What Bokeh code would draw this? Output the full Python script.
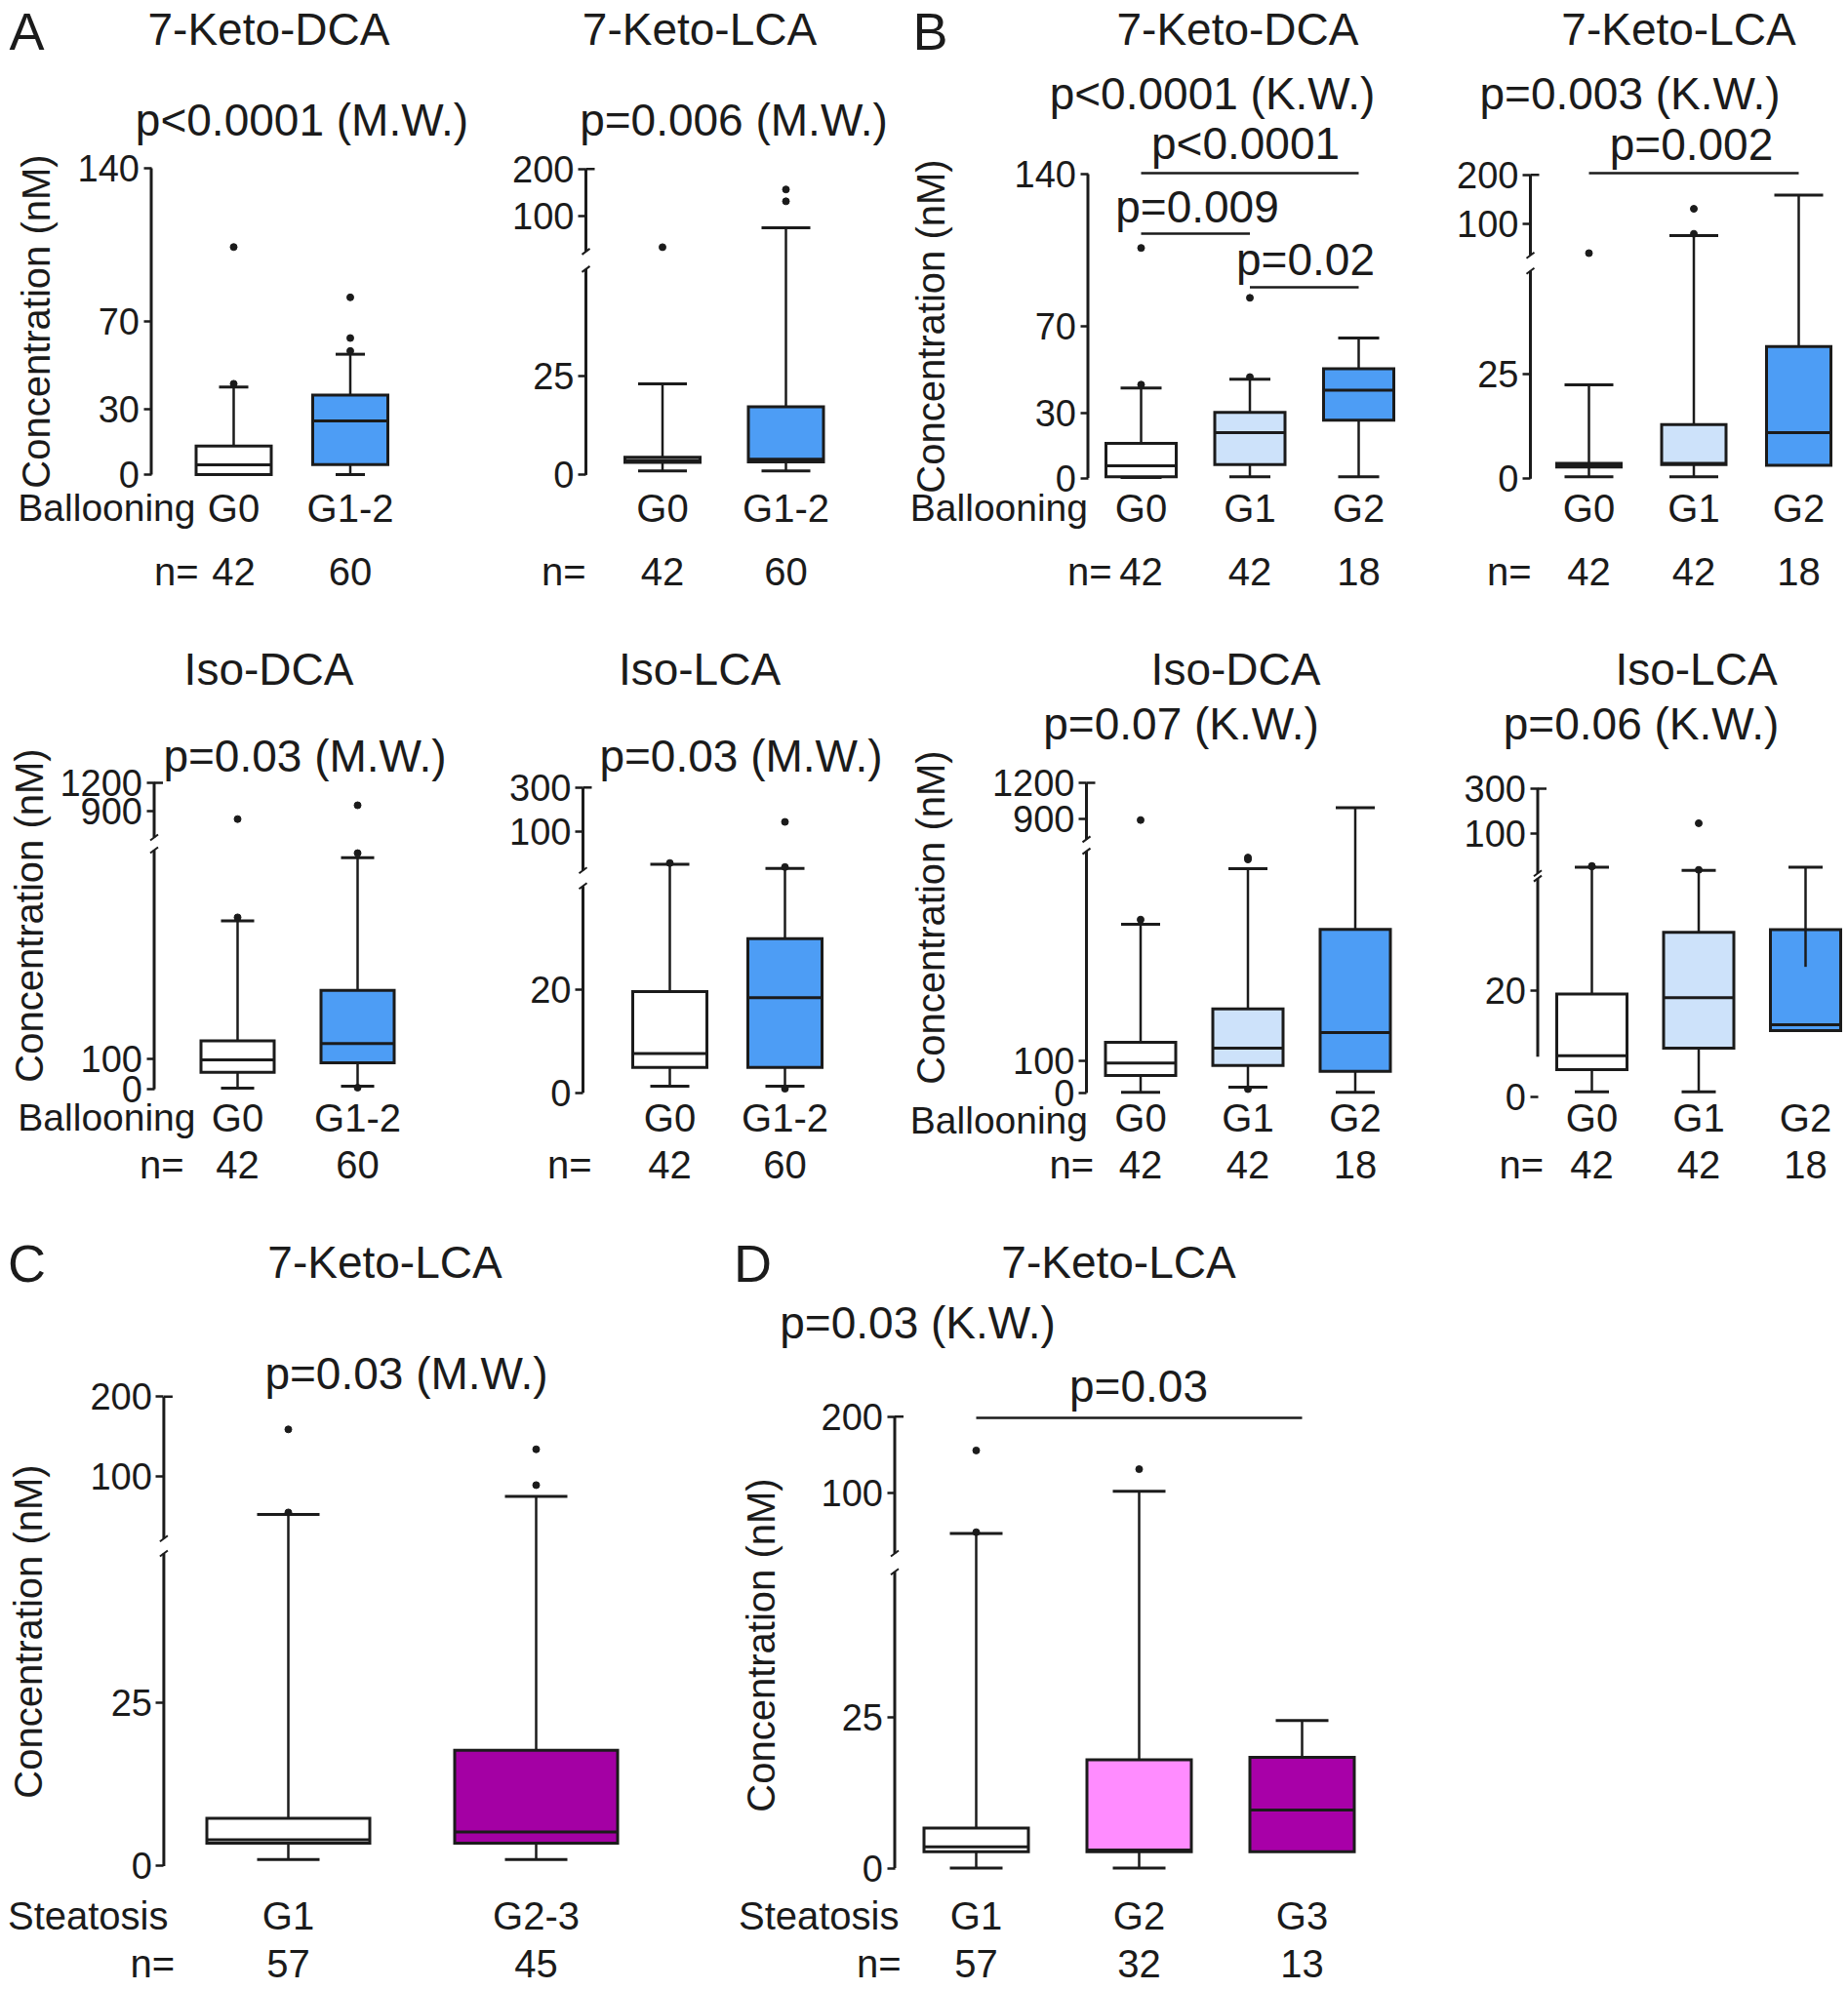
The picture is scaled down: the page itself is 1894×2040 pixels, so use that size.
import numpy as np
from bokeh.plotting import figure
from bokeh.layouts import column, row
from bokeh.models import LinearAxis, FixedTicker, CustomJSTickFormatter, Range1d
from bokeh.core.properties import value
from bokeh.embed import file_html
from bokeh.resources import INLINE

# ----------------------------------------------------------------- data
BALLOON_2 = ["G0", "G1-2"]
BALLOON_3 = ["G0", "G1", "G2"]
STEAT_2 = ["G1", "G2-3"]
STEAT_3 = ["G1", "G2", "G3"]
N_BALLOON_2 = [42, 60]
N_BALLOON_3 = [42, 42, 18]
N_STEAT_2 = [57, 45]
N_STEAT_3 = [57, 32, 13]

# boxes per group: (whisker low, Q1, median, Q3, whisker high) in nM
A_KDCA_BOX = [(0, 0, 4.5, 13, 40), (0, 4.6, 24.5, 36.3, 55)]
A_KDCA_OUT = [[41.5, 104], [56.5, 62.4, 81]]
A_KLCA_BOX = [(1, 3.2, 3.7, 4.5, 23), (1, 3.3, 4.0, 17.2, 87)]
A_KLCA_OUT = [[65], [132, 157]]
A_IDCA_BOX = [(3, 56, 98, 162, 563), (10, 88, 153, 331, 775)]
A_IDCA_OUT = [[575, 870], [5, 790, 962]]
A_ILCA_BOX = [(1.3, 4.9, 7.6, 19.6, 51), (1.3, 4.9, 18.4, 29.8, 45)]
A_ILCA_OUT = [[53], [0.8, 47, 144]]

B_KDCA_BOX = [(0.2, 0.6, 5.6, 16, 41.5), (0.6, 6.2, 20.9, 30.2, 45.5), (0.6, 26.6, 40.5, 50.3, 64.5)]
B_KDCA_OUT = [[43, 106], [46.5, 83], []]
B_KLCA_BOX = [(0.5, 2.8, 3.2, 3.7, 22.4), (0.5, 3.4, 3.7, 12.9, 84.8), (3.2, 3.2, 11, 31.5, 158)]
B_KLCA_OUT = [[62.8], [87, 130], []]
B_IDCA_BOX = [(2, 55, 94, 159, 530), (18, 86, 141, 264, 705), (2, 68, 190, 514, 990)]
B_IDCA_OUT = [[545, 890], [12, 734, 740], []]
B_ILCA_BOX = [(0.9, 5.1, 7.7, 19.3, 51), (0.9, 9.1, 18.6, 30.9, 46.3), (12.4, 12.4, 13.5, 31.4, 51)]
B_ILCA_OUT = [[52, 52.5], [47, 146], []]
B_ILCA_WHISKER_FROM = [19.3, 30.9, 24.4]

C_KLCA_BOX = [(1.0, 3.5, 4.0, 7.3, 69.4), (1.0, 3.5, 5.2, 17.7, 84)]
C_KLCA_OUT = [[71, 159], [93, 134]]
D_KLCA_BOX = [(0, 2.7, 3.5, 6.6, 66.4), (0, 2.7, 3.0, 17.9, 102), (2.7, 2.7, 9.6, 18.3, 24.4)]
D_KLCA_OUT = [[67.5, 155.6], [131], []]

TICKS_KDCA = [0, 30, 70, 140]
TICKS_KLCA = [0, 25, 100, 200]
TICKS_IDCA = [0, 100, 900, 1200]
TICKS_ILCA = [0, 20, 100, 300]

# ----------------------------------------------------------------- style
FONT = "Liberation Sans"
INK = "#1b1b1b"
FILL_A = ["#ffffff", "#4d9df5"]
FILL_B = ["#ffffff", "#cde2fa", "#4d9df5"]
FILL_C = ["#ffffff", "#a400a4"]
FILL_D = ["#ffffff", "#ff8cff", "#a800a8"]
YLAB = "Concentration (nM)"


def make_T(k, anchors):
    if anchors is None:
        return lambda v: np.asarray(v, dtype=float)
    vals, pxs = anchors
    return lambda v: np.interp(np.asarray(v, dtype=float), vals, pxs) / k


def txt(p, x, y, s, size, align="center", angle=0.0):
    p.text(x=[x], y=[y], text=[s], text_font=value(FONT), text_font_size=f"{size}px",
           text_align=align, text_baseline="middle", text_color=INK, angle=angle)


def panel(cfg):
    left, top, right, bottom = cfg["rect"]
    x1, sx, y0, k = cfg["x1"], cfg["sx"], cfg["y0"], cfg["k"]
    X = lambda px: (px - x1) / sx + 1.0
    Y = lambda py: (y0 - py) / k
    T = make_T(k, cfg.get("anchors"))

    p = figure(width=right - left, height=bottom - top,
               x_range=Range1d(X(left), X(right)), y_range=Range1d(Y(bottom), Y(top)),
               x_axis_type=None, y_axis_type=None, output_backend="svg",
               toolbar_location=None, tools="", min_border=0,
               outline_line_color=None, background_fill_color="white",
               border_fill_color="white")

    # spine with break
    xs = X(cfg["spine"])
    segs = cfg["segs"]
    p.segment(x0=[xs] * len(segs), y0=[float(T(a)) for a, b in segs],
              x1=[xs] * len(segs), y1=[float(T(b)) for a, b in segs],
              line_width=3, line_color=INK)
    if len(segs) > 1:
        ends = [float(T(segs[0][1])), float(T(segs[1][0]))]
        p.segment(x0=[xs - 4 / sx] * 2, y0=[e - 3 / k for e in ends],
                  x1=[xs + 4 / sx] * 2, y1=[e + 3 / k for e in ends],
                  line_width=2, line_color=INK)
        ytop = float(T(segs[-1][1]))
        p.segment(x0=[xs], y0=[ytop], x1=[xs + 9 / sx], y1=[ytop], line_width=2.5, line_color=INK)

    ticks = cfg["ticks"]
    tpos = [float(T(t)) for t in ticks]
    yax = LinearAxis(fixed_location=xs, ticker=FixedTicker(ticks=tpos),
                     formatter=CustomJSTickFormatter(
                         args=dict(pos=tpos, labels=[str(t) for t in ticks]),
                         code="let b=0; for (let i=0;i<pos.length;i++){ if (Math.abs(pos[i]-tick)<Math.abs(pos[b]-tick)) b=i;} return labels[b];"),
                     axis_line_color=None, major_tick_out=8, major_tick_in=0,
                     major_tick_line_width=2.5, major_tick_line_color=INK,
                     minor_tick_line_color=None, major_label_standoff=4,
                     major_label_text_font=FONT, major_label_text_font_size="38px",
                     major_label_text_color=INK)
    p.add_layout(yax, "left")

    groups = cfg["groups"]
    ng = len(groups)
    gx = np.arange(1, ng + 1, dtype=float)
    xax = LinearAxis(fixed_location=Y(cfg["gy"] - 22), ticker=FixedTicker(ticks=list(gx)),
                     formatter=CustomJSTickFormatter(args=dict(labels=groups),
                                                     code="return labels[Math.round(tick)-1];"),
                     axis_line_color=None, major_tick_line_color=None, major_tick_out=0,
                     major_tick_in=0, minor_tick_line_color=None, major_label_standoff=0,
                     major_label_text_font=FONT, major_label_text_font_size="40px",
                     major_label_text_color=INK)
    p.add_layout(xax, "below")

    box = np.array(cfg["box"], dtype=float)
    lo, q1, med, q3, hi = box.T
    bw = cfg["box_px"] / sx
    cw = cfg["cap_px"] / sx
    # whiskers
    p.segment(x0=gx, y0=T(q3), x1=gx, y1=T(hi), line_width=2.5, line_color=INK)
    has_lo = lo < q1
    p.segment(x0=gx[has_lo], y0=T(lo[has_lo]), x1=gx[has_lo], y1=T(q1[has_lo]),
              line_width=2.5, line_color=INK)
    p.segment(x0=gx - cw / 2, y0=T(hi), x1=gx + cw / 2, y1=T(hi), line_width=3, line_color=INK)
    p.segment(x0=(gx - cw / 2)[has_lo], y0=T(lo[has_lo]), x1=(gx + cw / 2)[has_lo],
              y1=T(lo[has_lo]), line_width=3, line_color=INK)
    # boxes
    p.quad(left=gx - bw / 2, right=gx + bw / 2, bottom=T(q1), top=T(q3),
           fill_color=cfg["fills"], line_color=INK, line_width=3, line_join="miter")
    p.segment(x0=gx - bw / 2, y0=T(med), x1=gx + bw / 2, y1=T(med), line_width=3, line_color=INK)
    if cfg.get("wfrom") is not None:
        wf = np.array(cfg["wfrom"], dtype=float)
        inside = wf < q3
        p.segment(x0=gx[inside], y0=T(wf[inside]), x1=gx[inside], y1=T(q3[inside]),
                  line_width=2.5, line_color=INK)
    # outliers
    ox, oy = [], []
    for i, vals in enumerate(cfg["out"]):
        ox += [gx[i]] * len(vals)
        oy += list(vals)
    if ox:
        p.scatter(x=ox, y=T(oy), size=7, fill_color=INK, line_color=INK)

    # counts
    for i, n in enumerate(cfg["n"]):
        txt(p, gx[i], Y(cfg["ny"]), str(n), 40)

    # brackets
    for (g1, g2, lab, ly, lx, lty) in cfg.get("brackets", []):
        p.segment(x0=[float(g1)], y0=[Y(ly)], x1=[float(g2)], y1=[Y(ly)], line_width=2.5, line_color=INK)
        txt(p, X(lx), Y(lty), lab, 46)

    for (s, px, py, size, align, angle) in cfg["texts"]:
        txt(p, X(px), Y(py), s, size, align, angle)
    return p


V = np.pi / 2
PANELS = [
    dict(rect=(0, 0, 490, 620), x1=239, sx=119.5, spine=154.5, y0=486, k=2.243, anchors=None,
         segs=[(0, 140)], ticks=TICKS_KDCA, box_px=77, cap_px=30, fills=FILL_A,
         groups=BALLOON_2, n=N_BALLOON_2, box=A_KDCA_BOX, out=A_KDCA_OUT, gy=520, ny=585,
         texts=[("A", 27, 31.5, 54, "center", 0), ("7-Keto-DCA", 275, 29, 46, "center", 0),
                ("p<0.0001 (M.W.)", 309, 122, 46, "center", 0), (YLAB, 36, 329, 40, "center", V),
                ("Ballooning", 200, 520, 39, "right", 0), ("n=", 203, 585, 40, "right", 0)]),
    dict(rect=(490, 0, 930, 620), x1=678.5, sx=126.5, spine=600, y0=486.4, k=4.06,
         anchors=([0, 52, 60, 100, 200], [0, 211, 229, 265, 313.6]),
         segs=[(0, 52), (60, 200)], ticks=TICKS_KLCA, box_px=77, cap_px=50, fills=FILL_A,
         groups=BALLOON_2, n=N_BALLOON_2, box=A_KLCA_BOX, out=A_KLCA_OUT, gy=520, ny=585,
         texts=[("7-Keto-LCA", 716.5, 29, 46, "center", 0),
                ("p=0.006 (M.W.)", 751.5, 122, 46, "center", 0), ("n=", 600, 585, 40, "right", 0)]),
    dict(rect=(930, 0, 1440, 620), x1=1169, sx=111.5, spine=1114.5, y0=489.5, k=2.225, anchors=None,
         segs=[(0, 140)], ticks=TICKS_KDCA, box_px=72, cap_px=42, fills=FILL_B,
         groups=BALLOON_3, n=N_BALLOON_3, box=B_KDCA_BOX, out=B_KDCA_OUT, gy=520, ny=585,
         brackets=[(1, 3, "p<0.0001", 177, 1276, 146.5), (1, 2, "p=0.009", 239, 1226.5, 211.5),
                   (2, 3, "p=0.02", 294, 1337.5, 265)],
         texts=[("B", 953, 31.5, 54, "center", 0), ("7-Keto-DCA", 1268, 29, 46, "center", 0),
                ("p<0.0001 (K.W.)", 1242, 95, 46, "center", 0), (YLAB, 953, 334, 40, "center", V),
                ("Ballooning", 1114.5, 520, 39, "right", 0), ("n=", 1139, 585, 40, "right", 0)]),
    dict(rect=(1440, 0, 1894, 620), x1=1628, sx=107.5, spine=1568, y0=490.3, k=4.30,
         anchors=([0, 49.5, 60, 100, 200], [0, 213, 229, 261.8, 311.6]),
         segs=[(0, 49.5), (60, 200)], ticks=TICKS_KLCA, box_px=66, cap_px=50, fills=FILL_B,
         groups=BALLOON_3, n=N_BALLOON_3, box=B_KLCA_BOX, out=B_KLCA_OUT, gy=520, ny=585,
         brackets=[(1, 3, "p=0.002", 177, 1733, 147)],
         texts=[("7-Keto-LCA", 1720, 29, 46, "center", 0),
                ("p=0.003 (K.W.)", 1670, 95, 46, "center", 0), ("n=", 1569, 585, 40, "right", 0)]),
    dict(rect=(0, 620, 490, 1235), x1=243, sx=123, spine=157.5, y0=1116, k=0.306,
         anchors=([0, 800, 801, 900, 1200], [0, 245, 258, 285, 314]),
         segs=[(0, 800), (801, 1200)], ticks=TICKS_IDCA, box_px=75, cap_px=34, fills=FILL_A,
         groups=BALLOON_2, n=N_BALLOON_2, box=A_IDCA_BOX, out=A_IDCA_OUT, gy=1145, ny=1193,
         texts=[("Iso-DCA", 275, 685, 46, "center", 0), ("p=0.03 (M.W.)", 312, 774, 46, "center", 0),
                (YLAB, 29, 938, 40, "center", V), ("Ballooning", 200, 1145, 39, "right", 0),
                ("n=", 188, 1193, 40, "right", 0)]),
    dict(rect=(490, 620, 930, 1235), x1=686, sx=118, spine=597, y0=1119.8, k=5.30,
         anchors=([0, 40, 42, 100, 300], [0, 212, 228, 267.8, 313]),
         segs=[(0, 40), (42, 300)], ticks=TICKS_ILCA, box_px=76, cap_px=40, fills=FILL_A,
         groups=BALLOON_2, n=N_BALLOON_2, box=A_ILCA_BOX, out=A_ILCA_OUT, gy=1145, ny=1193,
         texts=[("Iso-LCA", 716.5, 685, 46, "center", 0), ("p=0.03 (M.W.)", 759, 774, 46, "center", 0),
                ("n=", 606, 1193, 40, "right", 0)]),
    dict(rect=(930, 620, 1440, 1235), x1=1168.5, sx=110, spine=1113, y0=1119.9, k=0.326,
         anchors=([0, 760, 761, 900, 1200], [0, 247.8, 260, 281.3, 317.9]),
         segs=[(0, 760), (761, 1200)], ticks=TICKS_IDCA, box_px=72, cap_px=40, fills=FILL_B,
         groups=BALLOON_3, n=N_BALLOON_3, box=B_IDCA_BOX, out=B_IDCA_OUT, gy=1145, ny=1193,
         texts=[("Iso-DCA", 1266, 685, 46, "center", 0), ("p=0.07 (K.W.)", 1210, 741, 46, "center", 0),
                (YLAB, 953, 940, 40, "center", V), ("Ballooning", 1114.5, 1148, 39, "right", 0),
                ("n=", 1120.6, 1193, 40, "right", 0)]),
    dict(rect=(1440, 620, 1894, 1235), x1=1631, sx=109.5, spine=1575.5, y0=1123.7, k=5.455,
         anchors=([0, 41, 42, 100, 300], [0, 223.6, 229, 269.7, 315.7]),
         segs=[(7.5, 41), (42, 300)], ticks=TICKS_ILCA, box_px=72, cap_px=35, fills=FILL_B,
         groups=BALLOON_3, n=N_BALLOON_3, box=B_ILCA_BOX, out=B_ILCA_OUT, wfrom=B_ILCA_WHISKER_FROM,
         gy=1145, ny=1193,
         texts=[("Iso-LCA", 1738, 685, 46, "center", 0), ("p=0.06 (K.W.)", 1681.5, 741, 46, "center", 0),
                ("n=", 1581.7, 1193, 40, "right", 0)]),
    dict(rect=(0, 1235, 740, 2038), x1=295, sx=254, spine=167.4, y0=1912.4, k=6.70,
         anchors=([0, 47.8, 50, 100, 200], [0, 320.4, 335.7, 399.4, 481.1]),
         segs=[(0, 47.8), (50, 200)], ticks=TICKS_KLCA, box_px=167, cap_px=64, fills=FILL_C,
         groups=STEAT_2, n=N_STEAT_2, box=C_KLCA_BOX, out=C_KLCA_OUT, gy=1963, ny=2012,
         texts=[("C", 27, 1294, 54, "center", 0), ("7-Keto-LCA", 394, 1293, 46, "center", 0),
                ("p=0.03 (M.W.)", 416, 1407, 46, "center", 0), (YLAB, 28, 1672, 40, "center", V),
                ("Steatosis", 172, 1963, 40, "right", 0), ("n=", 178.6, 2012, 40, "right", 0)]),
    dict(rect=(740, 1235, 1894, 2038), x1=1000, sx=167, spine=916.5, y0=1914.5, k=6.20,
         anchors=([0, 49, 50, 100, 200], [0, 303.8, 322.5, 384.7, 462.8]),
         segs=[(0, 49), (50, 200)], ticks=TICKS_KLCA, box_px=107, cap_px=54, fills=FILL_D,
         groups=STEAT_3, n=N_STEAT_3, box=D_KLCA_BOX, out=D_KLCA_OUT, gy=1963, ny=2012,
         brackets=[(1, 3, "p=0.03", 1453, 1166.5, 1420)],
         texts=[("D", 771, 1294, 54, "center", 0), ("7-Keto-LCA", 1146, 1293, 46, "center", 0),
                ("p=0.03 (K.W.)", 940, 1355, 46, "center", 0), (YLAB, 779, 1686, 40, "center", V),
                ("Steatosis", 921, 1963, 40, "right", 0), ("n=", 923, 2012, 40, "right", 0)]),
]

figs = [panel(c) for c in PANELS]
layout = column(row(*figs[0:4]), row(*figs[4:8]), row(*figs[8:10]))
open("out.html", "w").write(file_html(layout, INLINE))
